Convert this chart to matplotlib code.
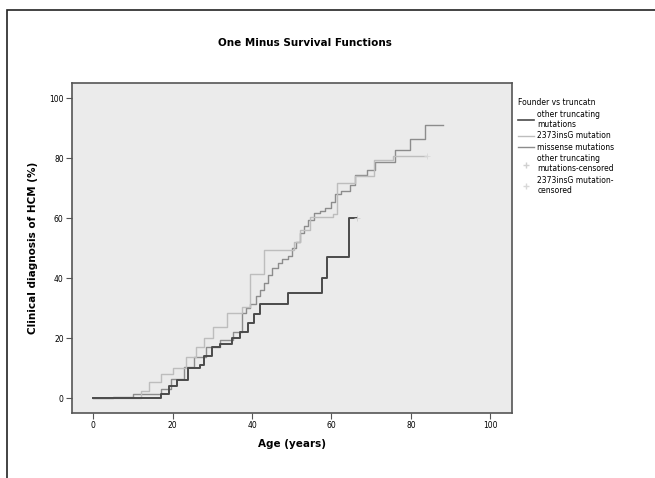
import numpy as np
import matplotlib
matplotlib.use("Agg")
import matplotlib.pyplot as plt
from matplotlib.lines import Line2D
from matplotlib.patches import Rectangle

# curve data (age in years, cumulative %)
age_trunc = [0, 17, 19, 21, 24, 27, 28, 30, 32, 35, 37, 39, 40.5, 42, 49, 57.5, 59, 64.5, 66.5]
pct_trunc = [0, 1.5, 4, 6, 10, 11, 14, 17, 18, 20, 22, 25, 28, 31.5, 35, 40, 47, 60, 60]

age_founder = [0, 12, 14, 17, 20, 23.5, 26, 28, 30.3, 33.6, 37.4, 39.5, 42.9, 50.5, 52, 54.6, 60.5, 61.3, 66, 70.6, 75.6, 84]
pct_founder = [0, 2.5, 5.4, 8.1, 10, 13.8, 17, 20, 23.8, 28.2, 30.4, 41.5, 49.3, 52, 56, 60.4, 61.5, 71.6, 74, 79.3, 80.7, 80.7]

age_missense = [0, 5, 10, 17, 19.5, 23, 25.5, 28.5, 32, 35.3, 37.4, 38.5, 39.5, 41, 42, 43, 44, 45,
                46.5, 47.5, 49, 50, 51, 52, 53, 54, 55.5, 57, 58.5, 60, 61, 62.5, 64.7, 66, 69, 71,
                76, 79.8, 83.6, 88]
pct_missense = [0, 0.3, 1.4, 3.1, 6.4, 10.4, 13.8, 17.1, 19.3, 22.1, 28.2, 30, 31.5, 34, 36, 38.2, 41, 43.5,
                45, 46.5, 47.5, 50, 52, 55, 57.5, 59.5, 61.6, 62.5, 63.5, 65.5, 68, 69, 71, 74.5, 76, 78.8,
                82.7, 86.5, 91, 91]

# censored cases
cens_trunc_age = [66.5]
cens_trunc_pct = [60]
cens_founder_age = [84]
cens_founder_pct = [80.7]

labels = ["other truncating\nmutations", "2373insG mutation", "missense mutations",
          "other truncating\nmutations-censored", "2373insG mutation-\ncensored"]
xticks = [0, 20, 40, 60, 80, 100]
yticks = [0, 20, 40, 60, 80, 100]

fig = plt.figure(figsize=(6.55, 4.78), dpi=100)
ax = fig.add_axes([0.110, 0.136, 0.672, 0.690])
ax.set_facecolor("#ebebeb")

c_dark = "#4a4a4a"
c_light = "#bdbdbd"
c_mid = "#8c8c8c"

ax.step(age_missense, pct_missense, where="post", color=c_mid, lw=1.0)
ax.step(age_founder, pct_founder, where="post", color=c_light, lw=1.0)
ax.step(age_trunc, pct_trunc, where="post", color=c_dark, lw=1.4)
ax.plot(cens_trunc_age, cens_trunc_pct, ls="none", marker="+", ms=4, color="#cfcfcf", mew=0.6)
ax.plot(cens_founder_age, cens_founder_pct, ls="none", marker="+", ms=4, color="#d8d8d8", mew=0.6)

ax.set_xlim(-5.3, 105.5)
ax.set_ylim(-5, 105)
ax.set_xticks(xticks)
ax.set_yticks(yticks)
ax.tick_params(labelsize=5.5, length=4, width=0.8, color="#555555", pad=2)
for s in ax.spines.values():
    s.set_color("#555555")
    s.set_linewidth(1.2)

ax.set_xlabel("Age (years)", fontsize=7.5, fontweight="bold", labelpad=6)
ax.set_ylabel("Clinical diagnosis of HCM (%)", fontsize=7.5, fontweight="bold", labelpad=8)
fig.text(0.465, 0.91, "One Minus Survival Functions", fontsize=7.5, fontweight="bold",
         ha="center", va="center")

handles = [Line2D([], [], color=c_dark, lw=1.2),
           Line2D([], [], color=c_light, lw=1.0),
           Line2D([], [], color=c_mid, lw=1.0),
           Line2D([], [], color="#d0d0d0", marker="+", ls="none", ms=4),
           Line2D([], [], color="#d8d8d8", marker="+", ls="none", ms=4)]
leg = ax.legend(handles, labels, loc="upper left", bbox_to_anchor=(1.0, 0.97),
                frameon=False, fontsize=5.5, title="Founder vs truncatn",
                title_fontsize=5.5, handlelength=2.2, handletextpad=0.4,
                labelspacing=0.3, borderaxespad=0.3)
leg._legend_box.align = "left"

# outer frame of the figure
fig.add_artist(Rectangle((7 / 655, -0.1), 1.2, 1.1 - 10 / 478, transform=fig.transFigure,
                         fill=False, edgecolor="#222222", lw=1.2))

fig.savefig("out.png", dpi=100)
